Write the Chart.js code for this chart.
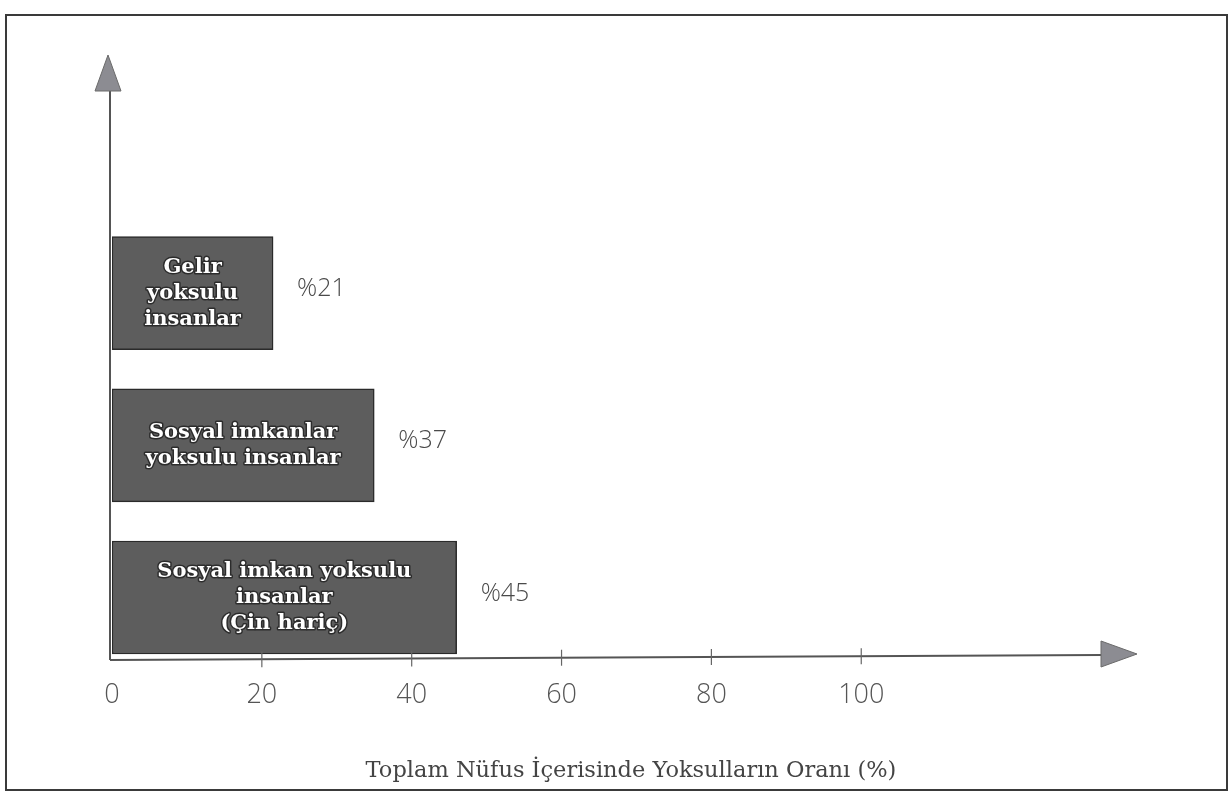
<!DOCTYPE html>
<html lang="tr">
<head>
    <meta charset="UTF-8">
    <title>Toplam Nüfus İçerisinde Yoksulların Oranı</title>
    <style>
        body {
            margin: 0;
            padding: 0;
            width: 1228px;
            height: 800px;
            background: #ffffff;
            position: relative;
            overflow: hidden;
        }
        .frame {
            position: absolute;
            left: 5px;
            top: 14px;
            width: 1219px;
            height: 773px;
            border: 2px solid #3a3a3a;
        }
        .chart-box {
            position: absolute;
            left: 0;
            top: 0;
            width: 1228px;
            height: 800px;
        }
    </style>
    <script src="https://cdn.jsdelivr.net/npm/chart.js@4.4.1/dist/chart.umd.min.js"></script>
</head>
<body>
    <div class="frame"></div>
    <div class="chart-box">
        <canvas id="povertyChart" width="1228" height="800"></canvas>
    </div>

    <script>
        // kategoriler (çubuk içindeki yazılar, satır satır)
        const categories = [
            ['Gelir', 'yoksulu', 'insanlar'],
            ['Sosyal imkanlar', 'yoksulu insanlar'],
            ['Sosyal imkan yoksulu', 'insanlar', '(Çin hariç)']
        ];
        // çubukların resimde çizilen uzunluğu
        const barLengths = [21.5, 35, 46];
        // çubukların yanında yazan oranlar
        const shownPercent = [21, 37, 45];
        const xTicks = [0, 20, 40, 60, 80, 100];
        const axisTitle = 'Toplam Nüfus İçerisinde Yoksulların Oranı (%)';

        const gray = '#555555';

        // eksen okları, tik çizgileri ve yazılar
        const decorPlugin = {
            id: 'decor',
            afterDatasetsDraw(chart) {
                const ctx = chart.ctx;
                const xs = chart.scales.x;
                const meta = chart.getDatasetMeta(0);
                const last = meta.data[meta.data.length - 1];
                const axisY = last.y + last.height / 2 + 6;
                const axisX = xs.getPixelForValue(0) - 2;

                ctx.save();
                // dikey eksen
                ctx.strokeStyle = gray;
                ctx.lineWidth = 2;
                ctx.beginPath();
                ctx.moveTo(axisX, 90);
                ctx.lineTo(axisX, axisY);
                ctx.stroke();
                // yatay eksen
                ctx.beginPath();
                ctx.moveTo(axisX, axisY);
                ctx.lineTo(xs.right, axisY - 5);
                ctx.stroke();

                // oklar
                ctx.fillStyle = '#8c8c92';
                ctx.strokeStyle = '#6a6a6a';
                ctx.lineWidth = 1;
                ctx.beginPath();
                ctx.moveTo(axisX - 2, 55);
                ctx.lineTo(axisX - 15, 91);
                ctx.lineTo(axisX + 11, 91);
                ctx.closePath();
                ctx.fill();
                ctx.stroke();
                ctx.beginPath();
                ctx.moveTo(xs.right + 36, axisY - 6);
                ctx.lineTo(xs.right, axisY - 19);
                ctx.lineTo(xs.right, axisY + 7);
                ctx.closePath();
                ctx.fill();
                ctx.stroke();

                // tik çizgileri
                ctx.strokeStyle = '#666';
                ctx.lineWidth = 1.2;
                xTicks.forEach(function (t) {
                    if (t === 0) return;
                    const px = xs.getPixelForValue(t);
                    const dy = (px - axisX) / (xs.right - axisX) * 5;
                    ctx.beginPath();
                    ctx.moveTo(px, axisY - dy - 8);
                    ctx.lineTo(px, axisY - dy + 8);
                    ctx.stroke();
                });

                // çubuk içi yazılar ve oranlar
                meta.data.forEach(function (bar, i) {
                    const lines = chart.data.labels[i];
                    const cx = (bar.base + bar.x) / 2;
                    const lh = 26;
                    const y0 = bar.y - (lines.length - 1) * lh / 2;
                    ctx.font = 'bold 21px "DejaVu Serif"';
                    ctx.textAlign = 'center';
                    ctx.textBaseline = 'middle';
                    lines.forEach(function (line, k) {
                        ctx.lineWidth = 3;
                        ctx.strokeStyle = '#2c2c2c';
                        ctx.lineJoin = 'round';
                        ctx.strokeText(line, cx, y0 + k * lh);
                        ctx.fillStyle = '#ffffff';
                        ctx.fillText(line, cx, y0 + k * lh);
                    });

                    ctx.font = '300 25px "Open Sans"';
                    ctx.fillStyle = '#4a4a4a';
                    ctx.textAlign = 'left';
                    ctx.fillText('%' + shownPercent[i], bar.x + 24, bar.y - 4);
                });

                // eksen başlığı
                ctx.font = '22.5px "DejaVu Serif"';
                ctx.fillStyle = '#444';
                ctx.textAlign = 'center';
                ctx.fillText(axisTitle, 631, 771);
                ctx.restore();
            }
        };

        const ctx = document.getElementById('povertyChart').getContext('2d');
        new Chart(ctx, {
            type: 'bar',
            data: {
                labels: categories,
                datasets: [{
                    data: barLengths,
                    backgroundColor: '#5d5d5d',
                    borderColor: '#2a2a2a',
                    borderWidth: 1.5,
                    borderSkipped: false,
                    barThickness: 113
                }]
            },
            options: {
                indexAxis: 'y',
                responsive: false,
                animation: false,
                layout: {
                    padding: { left: 112, right: 127, top: 217, bottom: 82 }
                },
                plugins: {
                    legend: { display: false },
                    tooltip: { enabled: false }
                },
                scales: {
                    x: {
                        type: 'linear',
                        min: 0,
                        max: 132,
                        afterBuildTicks: function (scale) {
                            scale.ticks = xTicks.map(function (v) { return { value: v }; });
                        },
                        grid: { display: false, drawTicks: false },
                        border: { display: false },
                        ticks: {
                            padding: 6,
                            maxRotation: 0,
                            autoSkip: false,
                            color: gray,
                            font: { family: 'Open Sans', size: 27, weight: 300 }
                        }
                    },
                    y: {
                        grid: { display: false, drawTicks: false },
                        border: { display: false },
                        ticks: { display: false }
                    }
                }
            },
            plugins: [decorPlugin]
        });
    </script>
</body>
</html>
